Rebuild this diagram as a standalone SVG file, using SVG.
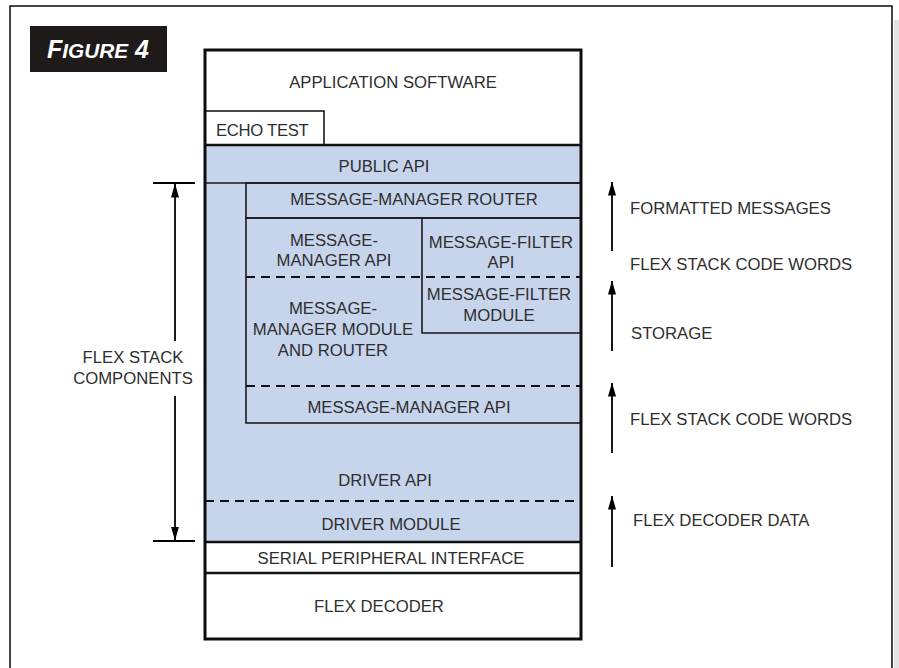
<svg xmlns="http://www.w3.org/2000/svg" width="899" height="668" viewBox="0 0 899 668">
  <style>
    .t { font-family: "Liberation Sans", Arial, sans-serif; font-size: 16.7px; fill: #2e2e2e; text-anchor: middle; }
    .tl { font-family: "Liberation Sans", Arial, sans-serif; font-size: 16.7px; fill: #2e2e2e; text-anchor: start; }
    .blue { fill: #c6d4ec; }
    .thin { fill: none; stroke: #1a1a1a; stroke-width: 1.6; }
    .dash { fill: none; stroke: #111; stroke-width: 2; stroke-dasharray: 9 6; }
    .conn { fill: none; stroke: #000; stroke-width: 1.8; }
  </style>
  <defs>
    <marker id="ah" viewBox="0 0 14 8" refX="13.5" refY="4" markerWidth="14" markerHeight="8" markerUnits="userSpaceOnUse" orient="auto">
      <path d="M0,0 L14,4 L0,8 Z" fill="#000"/>
    </marker>
  </defs>

  <rect x="0" y="0" width="899" height="668" fill="#ffffff"/>
  <rect x="894" y="20" width="5" height="648" fill="#e4e4e4"/>
  <rect x="10" y="6" width="882" height="680" fill="none" stroke="#1a1a1a" stroke-width="1.6"/>

  <g id="figure-label">
    <rect x="30" y="26" width="137" height="46" fill="#1e1a1a"/>
    <text x="47" y="58" font-family="'Liberation Sans', Arial, sans-serif" font-weight="bold" font-style="italic" fill="#ffffff"><tspan font-size="25">F</tspan><tspan font-size="20.8">IGURE</tspan><tspan font-size="25"> 4</tspan></text>
  </g>

  <g id="stack-background">
    <rect x="205" y="145" width="376" height="397" class="blue"/>
  </g>

  <g id="application-software">
    <text class="t" x="393" y="88">APPLICATION SOFTWARE</text>
  </g>

  <g id="echo-test">
    <rect x="205" y="111" width="119" height="34" fill="#ffffff" stroke="#1a1a1a" stroke-width="1.6"/>
    <text class="tl" x="216" y="136" letter-spacing="-0.3">ECHO TEST</text>
  </g>

  <g id="public-api">
    <line x1="205" y1="145" x2="581" y2="145" stroke="#111" stroke-width="2.6"/>
    <text class="t" x="384" y="172">PUBLIC API</text>
    <line x1="205" y1="183" x2="581" y2="183" stroke="#1a1a1a" stroke-width="1.6"/>
  </g>

  <g id="message-manager-router">
    <rect x="246" y="183" width="335" height="35" class="thin"/>
    <text class="t" x="414" y="205">MESSAGE-MANAGER ROUTER</text>
  </g>

  <g id="message-manager-module">
    <rect x="246" y="218" width="335" height="205" class="thin"/>
    <text class="t" x="334" y="246">MESSAGE-</text>
    <text class="t" x="334" y="266">MANAGER API</text>
    <line x1="246" y1="277" x2="581" y2="277" class="dash"/>
    <text class="t" x="333" y="314">MESSAGE-</text>
    <text class="t" x="333" y="335">MANAGER MODULE</text>
    <text class="t" x="333" y="356">AND ROUTER</text>
    <line x1="246" y1="386" x2="581" y2="386" class="dash"/>
    <text class="t" x="409" y="413">MESSAGE-MANAGER API</text>
  </g>

  <g id="message-filter">
    <path d="M422,218 V333 H581" class="thin"/>
    <text class="t" x="501" y="248">MESSAGE-FILTER</text>
    <text class="t" x="501" y="268">API</text>
    <text class="t" x="499" y="300">MESSAGE-FILTER</text>
    <text class="t" x="499" y="321">MODULE</text>
  </g>

  <g id="driver">
    <text class="t" x="385" y="486">DRIVER API</text>
    <line x1="205" y1="501" x2="581" y2="501" class="dash"/>
    <text class="t" x="391" y="530">DRIVER MODULE</text>
  </g>

  <g id="serial-peripheral-interface">
    <line x1="205" y1="542" x2="581" y2="542" stroke="#111" stroke-width="2.4"/>
    <text class="t" x="391" y="564">SERIAL PERIPHERAL INTERFACE</text>
  </g>

  <g id="flex-decoder">
    <line x1="205" y1="573" x2="581" y2="573" stroke="#111" stroke-width="2.4"/>
    <text class="t" x="379" y="612">FLEX DECODER</text>
  </g>

  <g id="stack-outline">
    <rect x="205" y="50" width="376" height="589" fill="none" stroke="#0d0d0d" stroke-width="3"/>
  </g>

  <g id="flex-stack-components">
    <text class="t" x="133" y="363">FLEX STACK</text>
    <text class="t" x="133" y="384">COMPONENTS</text>
  </g>

  <g id="connectors">
    <line x1="153" y1="183" x2="195" y2="183" class="conn"/>
    <line x1="153" y1="541" x2="195" y2="541" class="conn"/>
    <line x1="175" y1="341" x2="175" y2="184" class="conn" marker-end="url(#ah)"/>
    <line x1="175" y1="396" x2="175" y2="540" class="conn" marker-end="url(#ah)"/>
    <line x1="612" y1="251" x2="612" y2="182" class="conn" marker-end="url(#ah)"/>
    <line x1="612" y1="351" x2="612" y2="281" class="conn" marker-end="url(#ah)"/>
    <line x1="612" y1="453" x2="612" y2="383" class="conn" marker-end="url(#ah)"/>
    <line x1="612" y1="567" x2="612" y2="496" class="conn" marker-end="url(#ah)"/>
  </g>

  <g id="flow-labels">
    <text class="tl" x="630" y="214">FORMATTED MESSAGES</text>
    <text class="tl" x="630" y="270">FLEX STACK CODE WORDS</text>
    <text class="tl" x="631" y="339">STORAGE</text>
    <text class="tl" x="630" y="425">FLEX STACK CODE WORDS</text>
    <text class="tl" x="633" y="526">FLEX DECODER DATA</text>
  </g>
</svg>
